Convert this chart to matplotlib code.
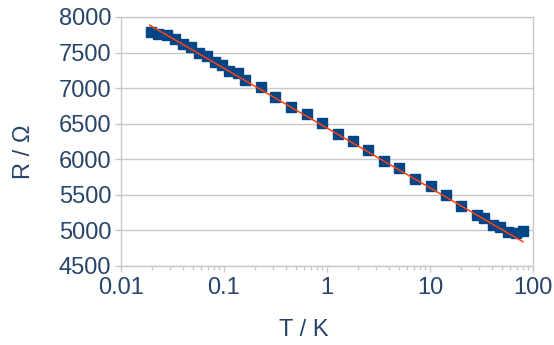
import matplotlib
matplotlib.use("Agg")
import matplotlib.pyplot as plt
from matplotlib.ticker import LogLocator, FixedLocator, NullFormatter

T = [0.0195, 0.0229, 0.028, 0.0334, 0.040, 0.0478, 0.0572, 0.0684, 0.0818,
     0.0957, 0.112, 0.137, 0.160, 0.229, 0.313, 0.447, 0.639, 0.894, 1.28,
     1.79, 2.50, 3.57, 5.0, 7.14, 10.2, 14.3, 20.0, 28.6, 33.4, 40.9, 47.9,
     57.2, 68.4, 80.0]
R = [7795, 7765, 7750, 7695, 7625, 7580, 7495, 7455, 7370, 7325, 7245, 7210,
     7115, 7015, 6875, 6735, 6635, 6510, 6355, 6255, 6130, 5975, 5875, 5725,
     5625, 5500, 5345, 5215, 5175, 5075, 5050, 4980, 4965, 4990]

# logarithmic trend line end points
fit_T = [0.019, 80.0]
fit_R = [7885, 4840]

txt = "#274469"
grid = "#c8c8c8"
plt.rcParams["font.family"] = ["Liberation Sans", "DejaVu Sans"]

fig, ax = plt.subplots(figsize=(5.54, 3.45), dpi=100)
fig.subplots_adjust(left=121/554, right=533/554, top=1-17/345, bottom=1-266/345)

ax.plot(T, R, ls="none", marker="s", ms=7.5, color="#004586", zorder=3)
ax.plot(fit_T, fit_R, color="#ff420e", lw=1.1, zorder=4)

ax.set_xscale("log")
ax.set_xlim(0.01, 100)
ax.set_ylim(4500, 8000)
ax.set_yticks(range(4500, 8001, 500))
ax.xaxis.set_major_locator(FixedLocator([0.01, 0.1, 1, 10, 100]))
ax.xaxis.set_major_formatter(plt.FuncFormatter(lambda v, p: "%g" % v))
ax.xaxis.set_minor_locator(LogLocator(base=10, subs=range(2, 10)))
ax.xaxis.set_minor_formatter(NullFormatter())

ax.grid(axis="y", color=grid, lw=1.0)
ax.set_axisbelow(True)
for s in ax.spines.values():
    s.set_color(grid)
    s.set_linewidth(1.0)

ax.tick_params(axis="both", which="major", colors=grid, labelcolor=txt,
               labelsize=17, length=4, width=1)
ax.tick_params(axis="x", which="major", pad=4)
ax.tick_params(axis="y", which="major", pad=3)
ax.tick_params(axis="x", which="minor", colors=grid, length=3, width=1)

ax.set_xlabel("T / K", fontsize=17, color=txt)
ax.set_ylabel("R / Ω", fontsize=17, color=txt)
ax.xaxis.set_label_coords((304-121)/412, -(330-266)/249)
ax.xaxis.label.set_va("center")
ax.yaxis.set_label_coords((24-121)/412, 1-(152-17)/249)
ax.yaxis.label.set_va("center")

fig.savefig("out.png", dpi=100)
